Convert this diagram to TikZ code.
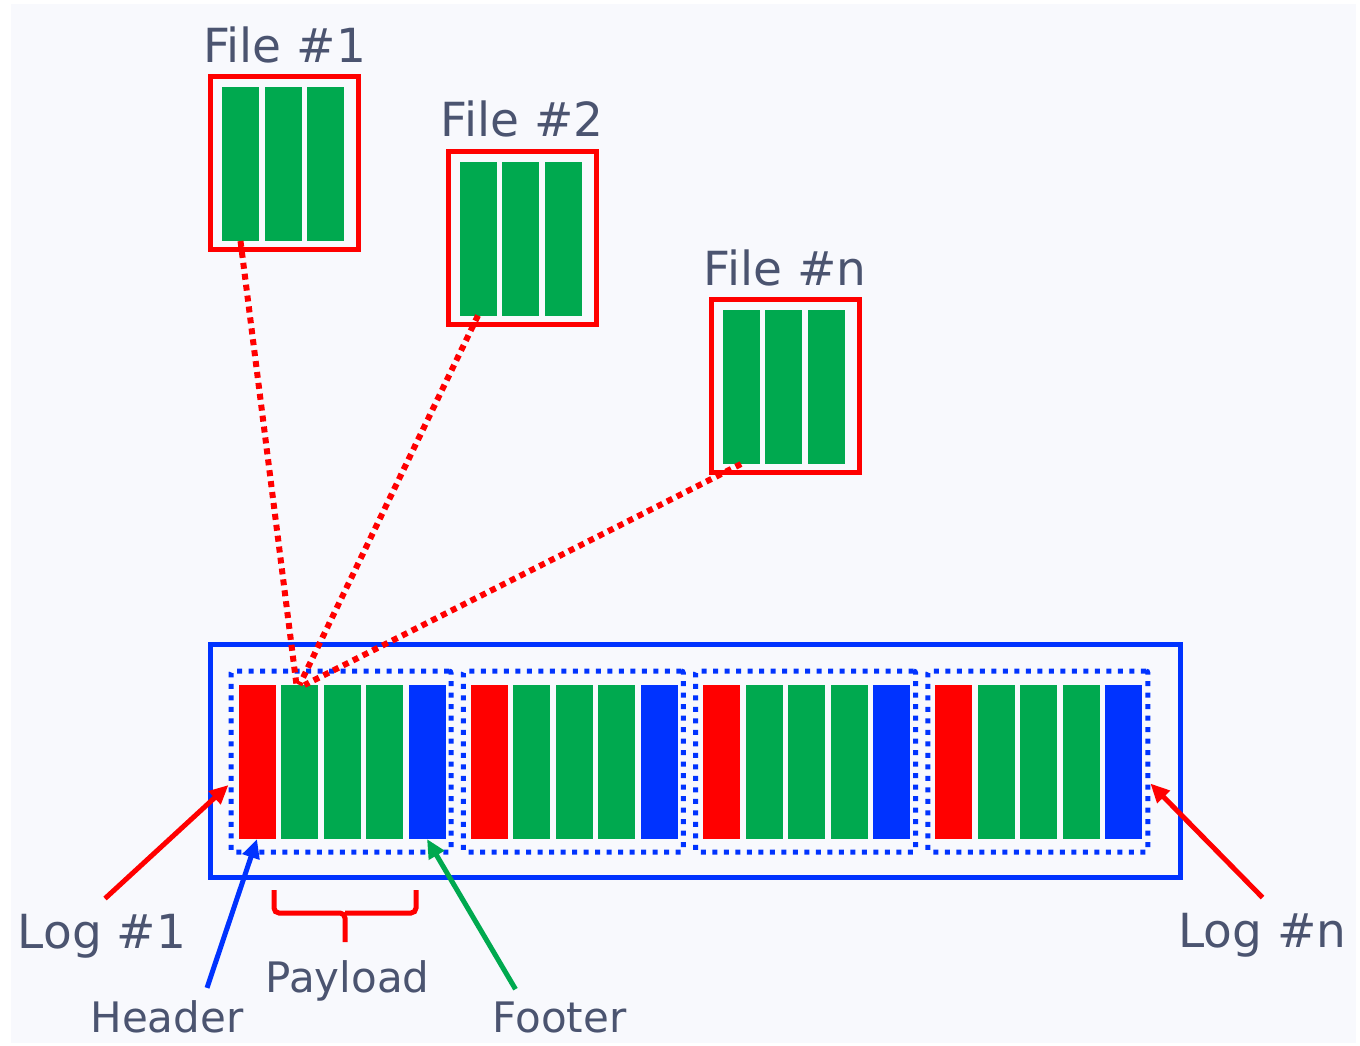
\documentclass[tikz,border=0pt]{standalone}
\usepackage{fontspec}
\setmainfont{DejaVu Sans}
\usetikzlibrary{arrows.meta, positioning, calc}

\definecolor{logred}{HTML}{FF0000}
\definecolor{loggreen}{HTML}{00A94F}
\definecolor{logblue}{HTML}{0033FF}
\definecolor{labelgray}{HTML}{4B5470}
\definecolor{paper}{HTML}{F8F9FD}

\begin{document}
\begin{tikzpicture}[
    x=1pt, y=-1pt, >={Triangle[length=19pt, width=17pt]},
    bar/.style={minimum width=37pt, minimum height=154pt,
                inner sep=0pt, outer sep=0pt},
    filebox/.style={draw=logred, line width=5pt, minimum width=148pt,
                    minimum height=173pt, inner sep=0pt},
    segment/.style={draw=logblue, line width=5pt,
                    dash pattern=on 5pt off 6.5pt, rounded corners=2pt,
                    minimum width=220pt, minimum height=181pt, inner sep=0pt},
    biglabel/.style={font=\fontsize{47}{56}\selectfont, text=labelgray,
                     inner sep=0pt},
    smalllabel/.style={font=\fontsize{42}{50}\selectfont, text=labelgray,
                       inner sep=0pt},
    link/.style={draw=logred, line width=6pt, dash pattern=on 6pt off 5pt},
    pointer/.style={->, line width=5pt}
  ]

  % page
  \useasboundingbox[fill=white] (0,0) rectangle (1360,1045);
  \fill[paper] (11,4) rectangle (1356,1043);

  % the files, three blocks each
  \foreach \f/\x/\y in {1/284.5/163, 2/522/237.5, n/785/386} {
    \node[filebox] (file\f) at (\x,\y) {};
    \foreach \i in {0,1,2}
      \node[bar, fill=loggreen] (file\f-\i) at ($(file\f)+(\i*42.5-44,1)$) {};
    \node[biglabel, above=11pt of file\f] {File \#\f};
  }

  % the log and its segments: header, payload, footer
  \node[draw=logblue, line width=5pt, minimum width=970pt,
        minimum height=233pt, inner sep=0pt] (log) at (695.5,761) {};
  \foreach \s in {1,...,4} {
    \node[segment] (seg\s) at ({341+(\s-1)*232.3},761.5) {};
    \foreach \c [count=\i from 0] in {logred,loggreen,loggreen,loggreen,logblue}
      \node[bar, fill=\c] (seg\s-\i) at ($(seg\s)+(\i*42.5-84,0.5)$) {};
  }

  % file blocks copied into the first payload
  \draw[link] (file1-0.south) -- ($(seg1-1.north)+(-3,0)$);
  \draw[link] (file2-0.south) -- (seg1-1.north);
  \draw[link] (filen-0.south) -- ($(seg1-1.north)+(5,0)$);

  % labels
  \node[biglabel, anchor=base] (log1) at (102,948) {Log \#1};
  \node[biglabel, anchor=base] (logn) at (1262.5,947) {Log \#n};
  \node[smalllabel, anchor=base] (header) at (167,1032) {Header};
  \node[smalllabel, anchor=base] (payload) at (347.5,992) {Payload};
  \node[smalllabel, anchor=base] (footer) at (559.5,1032) {Footer};

  \draw[pointer, logred] ($(log1.north)+(3,-15)$) -- ($(seg1.west)+(0,23.5)$);
  \draw[pointer, logred] ($(logn.north)+(0,-15)$) -- ($(seg4.east)+(0,22)$);
  \draw[pointer, logblue] ($(header.north)+(40,-12)$) -- (seg1-0.south);
  \draw[pointer, loggreen] ($(footer.north)+(-44,-12)$) -- (seg1-4.south);

  % brace over the payload label
  \draw[logred, line width=5pt, rounded corners=5pt]
    (274,890) |- (345,913) -- (345,942);
  \draw[logred, line width=5pt, rounded corners=5pt]
    (416,890) |- (345,913);
\end{tikzpicture}
\end{document}
